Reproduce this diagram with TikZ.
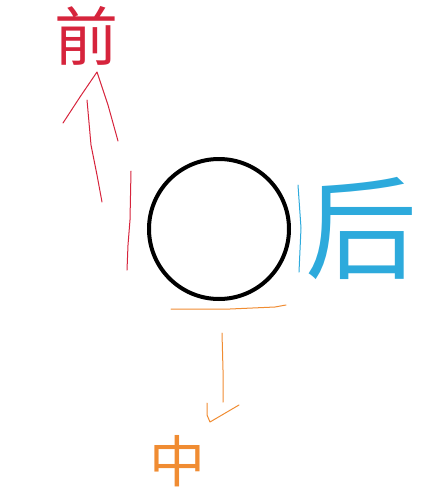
\documentclass[tikz,border=0pt]{standalone}
\usepackage{fontspec}
\newfontfamily\cjk{Noto Sans CJK SC}
\definecolor{penred}{RGB}{214,36,60}
\definecolor{penblue}{RGB}{45,170,220}
\definecolor{penorange}{RGB}{240,140,50}
\begin{document}
\begin{tikzpicture}[x=1pt,y=-1pt,
  stroke/.style={line width=1pt,line cap=round,line join=round},
  hand/.style={inner sep=0pt,font=\cjk}]
\useasboundingbox (0,0) rectangle (435,499);
% circle
\node[circle,draw=black,line width=4pt,minimum size=140pt,inner sep=0pt] (c) at (219,229) {};
% red: front
\node[hand,text=penred,font=\cjk\fontsize{64}{64}\selectfont] (front) at (86,36) {前};
\draw[stroke,penred] (63,123) -- (80,97) -- (97,72) -- (108,105) -- (118,141);
\draw[stroke,penred] (87,100) -- (91,145) -- (97,175) -- (102,202);
\draw[stroke,penred] (131,171) -- (130,220) -- (128,245) -- (127,270);
% blue: back
\draw[stroke,penblue] (298,185) -- (301,228) -- (299,272);
\node[hand,text=penblue,font=\cjk\fontsize{112}{112}\selectfont] (back) at (361,228) {后};
% orange: middle
\draw[stroke,penorange] (171,309) -- (230,309) -- (275,307) -- (286,305);
\draw[stroke,penorange] (222,333) -- (223,370) -- (223,402);
\draw[stroke,penorange] (207,403) -- (207,415) -- (210,422) -- (239,405);
\node[hand,text=penorange,font=\cjk\fontsize{56}{56}\selectfont] (mid) at (177,461) {中};
\end{tikzpicture}
\end{document}
